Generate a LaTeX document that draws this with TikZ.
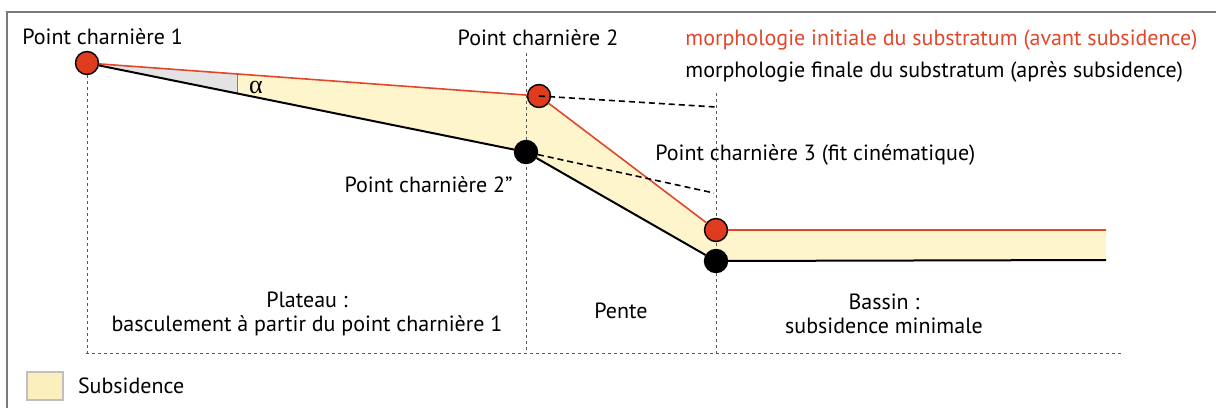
\documentclass[tikz,border=0pt]{standalone}
\usepackage{fontspec}
\setmainfont{PT Sans}
\newfontfamily\greekserif{Liberation Serif}
\usetikzlibrary{positioning,backgrounds}
\definecolor{InitRed}{HTML}{E2472B}
\definecolor{HingeRed}{HTML}{DE3B1F}
\definecolor{SubsYellow}{HTML}{FFF5CC}
\definecolor{KeyYellow}{HTML}{FBEFBE}
\definecolor{FrameGray}{HTML}{7A7A7A}

\begin{document}
\begin{tikzpicture}[x=0.5pt, y=-0.5pt, font=\fontsize{11}{12}\selectfont,
   hinge/.style={circle, draw=black, line width=0.7pt, minimum size=11.5pt, inner sep=0pt},
   guide/.style={gray!70!black, line width=0.4pt, dash pattern=on 1.5pt off 1.5pt},
   proj/.style={black, line width=0.8pt, dash pattern=on 3pt off 2pt},
   initial/.style={InitRed, line width=0.8pt},
   final/.style={black, line width=1pt},
   lbl/.style={inner sep=0pt}]
  \useasboundingbox (0,0) rectangle (1216,408);
  \draw[FrameGray, line width=0.6pt] (7,408) -- (7,12) -- (1216,12);

  % points charnieres
  \node[hinge, fill=HingeRed] (p1)  at (87,63)   {};
  \node[hinge, fill=HingeRed] (p2)  at (539,96)  {};
  \node[hinge, fill=HingeRed] (p3)  at (716,230) {};
  \node[hinge, fill=black]    (p2s) at (526,152) {};
  \node[hinge, fill=black]    (p3s) at (716,261) {};
  \coordinate (bR) at (1106,230);
  \coordinate (bB) at (1106,260);
  \coordinate (q2)  at (716,107);
  \coordinate (q2s) at (714,193);

  \begin{scope}[on background layer]
    \fill[SubsYellow] (p1.center) -- (p2.center) -- (p3.center) -- (bR) -- (bB)
      -- (p3s.center) -- (p2s.center) -- cycle;
    \fill[gray!22] (p1.center) -- (237,74) -- (237,93) -- cycle;
    \draw[gray, line width=0.4pt] (237,74) -- (237,93);
    \draw[guide] (87,75) -- (87,353);
    \draw[guide] (526,53) -- (526,353);
    \draw[guide] (716,93) -- (716,353);
    \draw[guide] (86,353) -- (1123,353);
  \end{scope}

  \draw[initial] (p1) -- (p2) -- (p3) -- (bR);
  \draw[final] (p1) -- (p2s) -- (p3s) -- (bB);
  \draw[proj] (p2.center) -- (q2);
  \draw[proj] (p2s) -- (q2s);

  \node[lbl, font=\fontsize{13}{13}\greekserif] (alpha) at (256,87) {α};
  \node[lbl, anchor=west] (t1) at (22,37) {Point charnière 1};
  \node[lbl] (t2) at (538,38) {Point charnière 2};
  \node[lbl, anchor=west] (t3) at (655,155) {Point charnière 3 (fit cinématique)};
  \node[lbl, anchor=east] (t2s) at (513,185) {Point charnière 2\symbol{34}};
  \node[lbl, anchor=west, text=InitRed] (legI) at (685,40)
    {morphologie initiale du substratum (avant subsidence)};
  \node[lbl, anchor=west] (legF) at (685,72)
    {morphologie finale du substratum (après subsidence)};

  \node[lbl, align=center] (plateau) at (307,314) {Plateau :\\basculement à partir du point charnière 1};
  \node[lbl] (pente) at (621,311) {Pente};
  \node[lbl, align=center] (bassin) at (884,314) {Bassin :\\subsidence minimale};

  \node[draw=gray!50, fill=KeyYellow, line width=0.6pt, minimum width=18pt, minimum height=14pt]
    (key) at (45,386) {};
  \node[lbl, right=7pt of key] (keytxt) {Subsidence};
\end{tikzpicture}
\end{document}
